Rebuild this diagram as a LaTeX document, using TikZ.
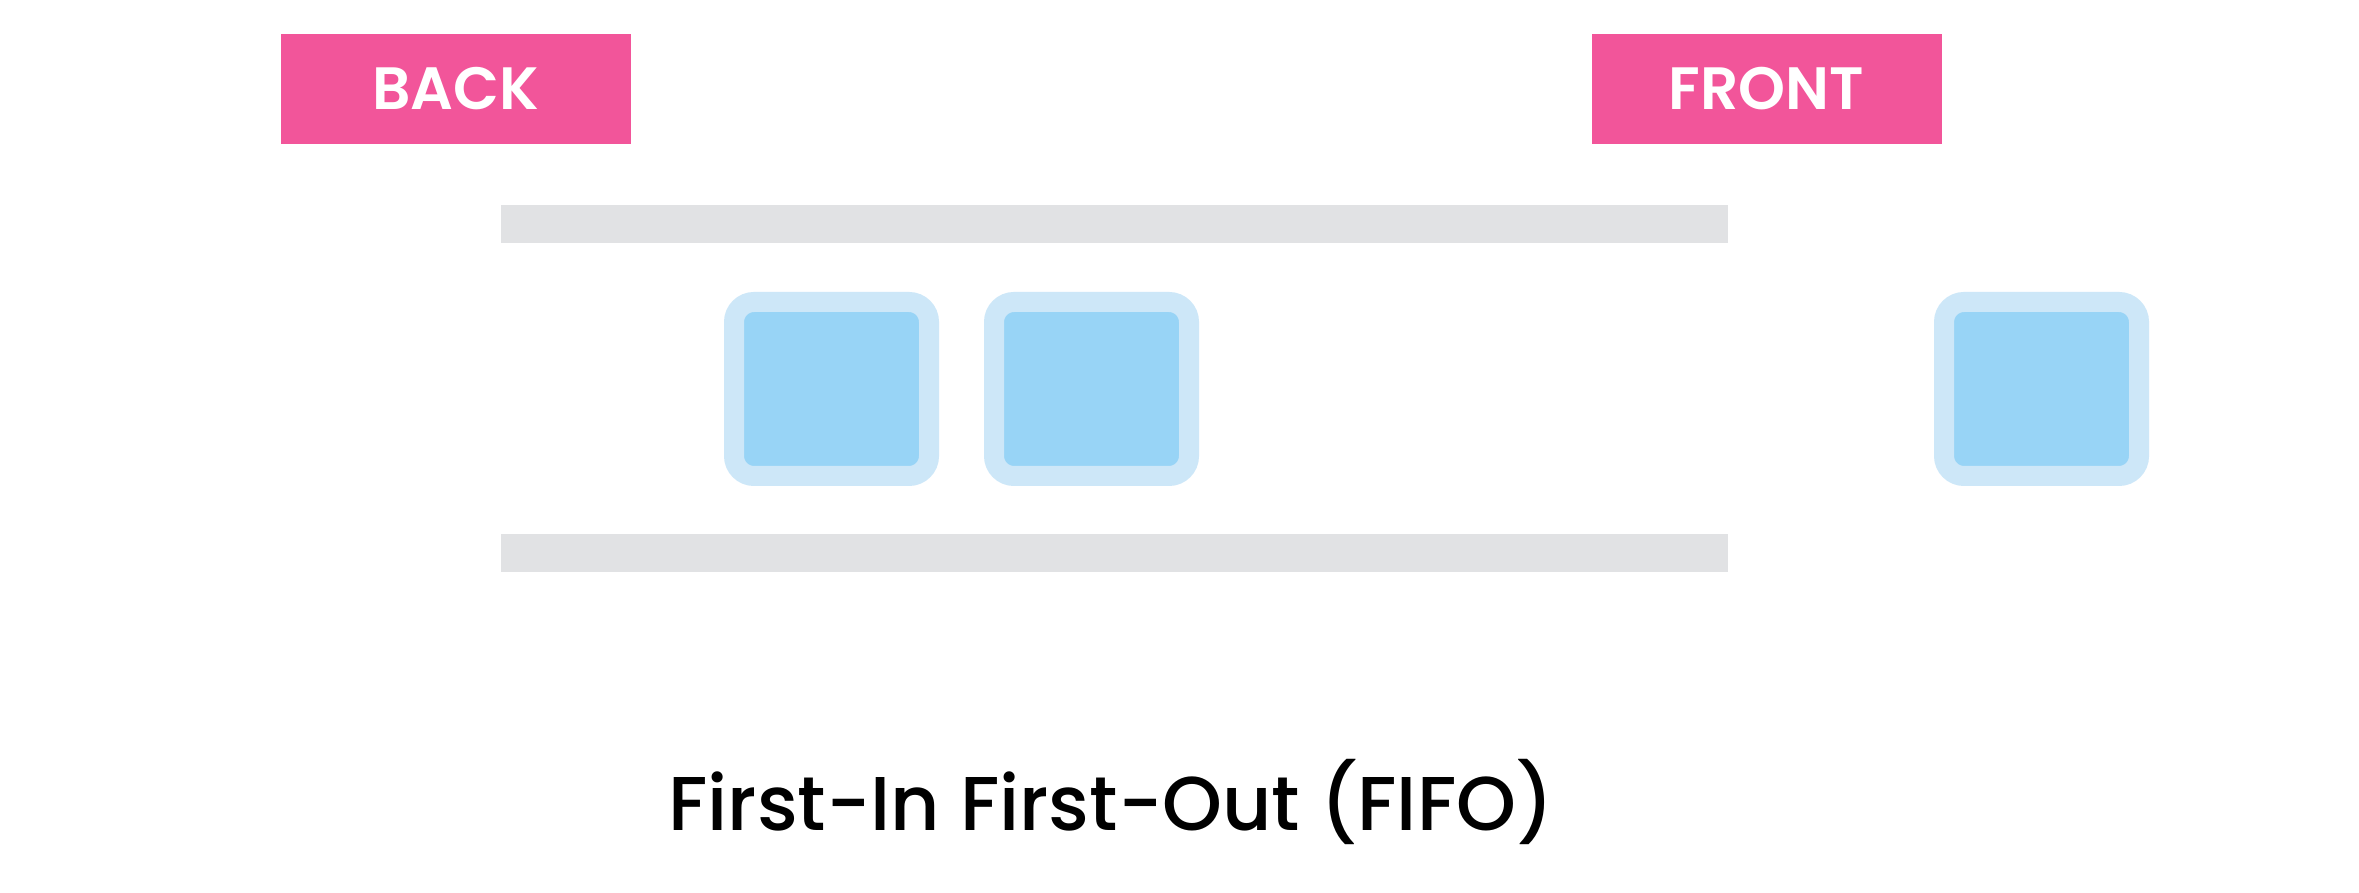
\documentclass[tikz,border=0pt]{standalone}
\usepackage{fontspec}
\setmainfont{Poppins}
\newfontfamily\capfont{Poppins Medium}
\newfontfamily\tagfont{Poppins SemiBold}
\usepackage{xcolor}
\usetikzlibrary{positioning}
\definecolor{tagpink}{HTML}{F2559A}
\definecolor{railgray}{HTML}{E1E2E4}
\definecolor{itemedge}{HTML}{CDE7F8}
\definecolor{itemfill}{HTML}{98D4F6}

\begin{document}
\begin{tikzpicture}[x=1cm, y=1cm,
  tag/.style={fill=tagpink, text=white, font=\tagfont\fontsize{17}{20}\selectfont,
              minimum width=3.5cm, minimum height=1.1cm, inner sep=0pt},
  rail/.style={fill=railgray, minimum width=12.27cm, minimum height=0.38cm, inner sep=0pt},
  item/.style={draw=itemedge, line width=0.2cm, fill=itemfill, rounded corners=0.2cm,
               minimum width=1.95cm, minimum height=1.74cm, inner sep=0pt},
]
  \useasboundingbox[fill=white] (0,0) rectangle (23.59,-8.93);
  \node[tag] (back)  at (4.555,-0.89)  {BACK};
  \node[tag] (front) at (17.665,-0.89) {FRONT};
  \node[rail] (top)    at (11.145,-2.24) {};
  \node[rail] (bottom) at (11.145,-5.53) {};
  % elementos da fila
  \foreach \xn/\xpos in {1/8.315, 2/10.915, 3/20.415} {
    \node[item] (q\xn) at (\xpos,-3.89) {};
  }
  \node[anchor=base, font=\capfont\fontsize{21.7}{26}\selectfont] (caption) at (11.11,-8.31) {First-In First-Out (FIFO)};
\end{tikzpicture}
\end{document}
